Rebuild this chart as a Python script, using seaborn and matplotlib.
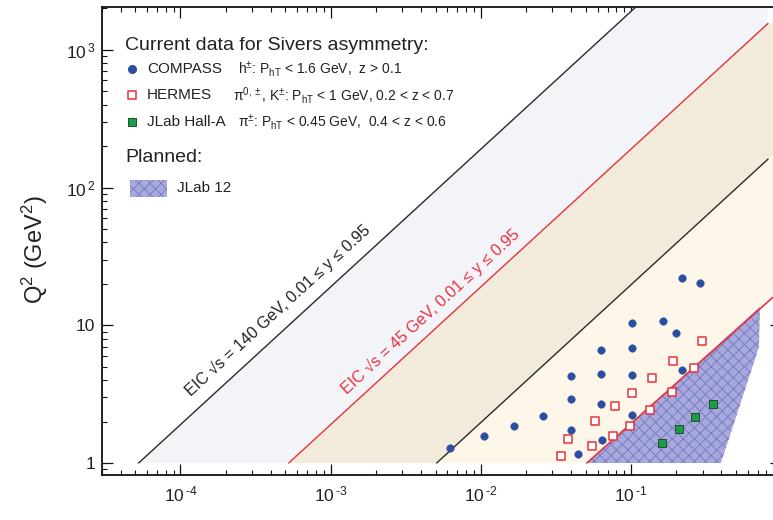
import numpy as np
import pandas as pd
import matplotlib
matplotlib.use("Agg")
import matplotlib.pyplot as plt
import seaborn as sns
from matplotlib.patches import Polygon, Rectangle
from matplotlib.ticker import FixedLocator, FixedFormatter, LogLocator, NullFormatter

# ---------------- data ----------------
compass_x = [0.0062, 0.0105, 0.0166, 0.0258, 0.0402, 0.0402, 0.0402, 0.0445,
             0.0628, 0.0628, 0.0628, 0.0641, 0.102, 0.102, 0.102, 0.102,
             0.163, 0.200, 0.218, 0.218, 0.290]
compass_q2 = [1.28, 1.57, 1.86, 2.20, 4.28, 2.90, 1.74, 1.16,
              6.62, 4.43, 2.68, 1.47, 10.4, 6.81, 4.36, 2.22,
              10.7, 8.75, 4.74, 21.9, 20.4]

hermes_x = [0.0341, 0.0384, 0.0555, 0.0581, 0.0762, 0.0782, 0.0985,
            0.102, 0.134, 0.139, 0.187, 0.191, 0.263, 0.296]
hermes_q2 = [1.13, 1.50, 1.33, 2.03, 1.57, 2.59, 1.87,
             3.21, 2.41, 4.14, 3.29, 5.51, 4.87, 7.73]

jlab_x = [0.160, 0.208, 0.267, 0.354]
jlab_q2 = [1.39, 1.77, 2.17, 2.68]

# Kinematic limits drawn as Q2 = slope * x
eic140_slope = 19000.0
eic45_slope = 1900.0
fixed_target_slope = 196.5
line_x_end = 0.82
q2_min = 1.0

# JLab 12 GeV projected coverage
jlab12_x = [0.0509, 0.724, 0.713, 0.398]
jlab12_q2 = [1.0, 13.6, 6.96, 1.0]
jlab12_edge_x = [0.0509, 0.885]
jlab12_edge_q2 = [1.0, 16.0]

x_ticks = [1e-4, 1e-3, 1e-2, 1e-1]
x_ticklabels = [r"10$^{\,\text{-}4}$", r"10$^{\,\text{-}3}$",
                r"10$^{\,\text{-}2}$", r"10$^{\,\text{-}1}$"]
y_ticks = [1, 10, 100, 1000]
y_ticklabels = ["1", "10", r"10$^{\,2}$", r"10$^{\,3}$"]

legend_names = ["COMPASS", "HERMES", "JLab Hall-A"]
legend_desc = ["h$^{\\pm}$: P$_{\\rm hT}$ < 1.6 GeV,  z > 0.1",
               "\u03c0$^{0,\\pm}$, K$^{\\pm}$: P$_{\\rm hT}$ < 1 GeV, 0.2 < z < 0.7",
               "\u03c0$^{\\pm}$: P$_{\\rm hT}$ < 0.45 GeV,  0.4 < z < 0.6"]

xlim = (3.0e-5, 1.0)
ylim = (0.818, 2050.0)

# ---------------- style ----------------
sns.set_theme(style="ticks")
plt.rcParams["font.family"] = ["Liberation Sans", "DejaVu Sans"]
plt.rcParams["mathtext.fontset"] = "custom"
plt.rcParams["mathtext.rm"] = "Liberation Sans"
plt.rcParams["mathtext.it"] = "Liberation Sans:italic"
plt.rcParams["mathtext.bf"] = "Liberation Sans:bold"
plt.rcParams["hatch.linewidth"] = 0.6

TXT = "#222222"
BLUE = "#2c4ea0"
RED = "#e8323c"
GREEN = "#1f9a49"
GREEN_EDGE = "#1d4f2c"
HATCH_FACE = "#a7a9dc"
HATCH_LINE = "#7477c2"
BAND_A = "#f3f4f8"
BAND_B = "#f2ebdc"
BAND_C = "#fdf6e9"

W, H = 773, 520
fig = plt.figure(figsize=(W / 100, H / 100), dpi=100)
ax = fig.add_axes([102 / W, 45 / H, (781 - 102) / W, (513 - 45) / H])
ax.set_xscale("log")
ax.set_yscale("log")
ax.set_xlim(*xlim)
ax.set_ylim(*ylim)

# ---------------- shaded kinematic bands ----------------
x140_lo = q2_min / eic140_slope
x140_hi = ylim[1] / eic140_slope
x45_lo = q2_min / eic45_slope
x3_lo = q2_min / fixed_target_slope
q45_end = eic45_slope * line_x_end

band_a = Polygon([(x140_lo, q2_min), (x140_hi, ylim[1]), (line_x_end, ylim[1]),
                  (line_x_end, q45_end), (x45_lo, q2_min)],
                 closed=True, facecolor=BAND_A, edgecolor="none", zorder=1)
band_b = Polygon([(x45_lo, q2_min), (line_x_end, q45_end), (xlim[1], q45_end),
                  (xlim[1], fixed_target_slope * xlim[1]), (x3_lo, q2_min)],
                 closed=True, facecolor=BAND_B, edgecolor="none", zorder=1)
band_c = Polygon([(x3_lo, q2_min), (xlim[1], fixed_target_slope * xlim[1]),
                  (xlim[1], jlab12_edge_q2[1]), (jlab12_edge_x[1], jlab12_edge_q2[1]),
                  (jlab12_edge_x[0], jlab12_edge_q2[0])],
                 closed=True, facecolor=BAND_C, edgecolor="none", zorder=1)
for p in (band_a, band_b, band_c):
    ax.add_patch(p)

jlab12 = Polygon(list(zip(jlab12_x, jlab12_q2)), closed=True,
                 facecolor=HATCH_FACE, edgecolor=HATCH_LINE, linewidth=0,
                 hatch="xxx", zorder=2)
ax.add_patch(jlab12)

# ---------------- boundary lines ----------------
lines = pd.DataFrame({
    "x": [x140_lo, x140_hi, x45_lo, line_x_end, x3_lo, line_x_end],
    "q2": [q2_min, ylim[1], q2_min, q45_end, q2_min, fixed_target_slope * line_x_end],
    "name": ["140", "140", "45", "45", "ft", "ft"],
})
sns.lineplot(data=lines, x="x", y="q2", hue="name",
             palette={"140": "#2a2a2a", "45": RED, "ft": "#2a2a2a"},
             linewidth=1.0, legend=False, ax=ax, zorder=3, sort=False,
             estimator=None)
sns.lineplot(x=jlab12_edge_x, y=jlab12_edge_q2, color=RED, linewidth=1.2,
             ax=ax, zorder=3, estimator=None)

# ---------------- measurements ----------------
sns.scatterplot(x=compass_x, y=compass_q2, ax=ax, marker="o", s=30,
                color=BLUE, edgecolor=BLUE, linewidth=0.3, zorder=6)
sns.scatterplot(x=hermes_x, y=hermes_q2, ax=ax, marker="s", s=36,
                facecolor="white", edgecolor=RED, linewidth=1.1, zorder=6)
sns.scatterplot(x=jlab_x, y=jlab_q2, ax=ax, marker="s", s=32,
                color=GREEN, edgecolor=GREEN_EDGE, linewidth=0.7, zorder=6)

# ---------------- line annotations ----------------
def slope_angle(slope):
    p0 = ax.transData.transform((1e-4, slope * 1e-4))
    p1 = ax.transData.transform((1e-3, slope * 1e-3))
    return np.degrees(np.arctan2(p1[1] - p0[1], p1[0] - p0[0]))

ax.text(4.43e-4, 12.9, "EIC \u221as = 140 GeV, 0.01 \u2264 y \u2264 0.95",
        rotation=slope_angle(eic140_slope), rotation_mode="anchor",
        ha="center", va="center", fontsize=11.6, color=TXT, zorder=7)
ax.text(4.64e-3, 12.5, "EIC \u221as = 45 GeV, 0.01 \u2264 y \u2264 0.95",
        rotation=slope_angle(eic45_slope), rotation_mode="anchor",
        ha="center", va="center", fontsize=11.6, color=RED, zorder=7)

# ---------------- axes ----------------
ax.xaxis.set_major_locator(FixedLocator(x_ticks))
ax.xaxis.set_major_formatter(FixedFormatter(x_ticklabels))
ax.yaxis.set_major_locator(FixedLocator(y_ticks))
ax.yaxis.set_major_formatter(FixedFormatter(y_ticklabels))
for axis in (ax.xaxis, ax.yaxis):
    axis.set_minor_locator(LogLocator(base=10, subs=np.arange(2, 10), numticks=20))
    axis.set_minor_formatter(NullFormatter())
ax.tick_params(which="both", direction="in", top=True, right=True,
               colors="#111111", labelcolor=TXT, labelsize=12.5)
ax.tick_params(which="major", length=8, width=0.9)
ax.tick_params(which="minor", length=3.5, width=0.8)
ax.tick_params(axis="x", which="major", pad=7)
ax.tick_params(axis="y", which="major", pad=5)
for s in ax.spines.values():
    s.set_linewidth(1.3)
    s.set_color("#111111")
ax.set_xlabel("")
ax.set_ylabel("")
fig.text(35 / W, 1 - 250 / H, r"Q$^2$ (GeV$^2$)", rotation=90,
         ha="center", va="center", fontsize=17, color=TXT)

# ---------------- legend block ----------------
lax = fig.add_axes([0, 0, 1, 1], zorder=10)
lax.set_xlim(0, W)
lax.set_ylim(H, 0)
lax.axis("off")
lax.patch.set_alpha(0)

lax.text(125, 45, "Current data for Sivers asymmetry:", fontsize=14,
         color=TXT, va="center")
rows_y = [69, 95, 122]
lax.scatter([132], [rows_y[0]], marker="o", s=30, color=BLUE)
lax.scatter([132], [rows_y[1]], marker="s", s=36, facecolor="white",
            edgecolor=RED, linewidth=1.1)
lax.scatter([132], [rows_y[2]], marker="s", s=32, color=GREEN,
            edgecolor=GREEN_EDGE, linewidth=0.7)
desc_x = [238, 233, 238]
for yy, name, desc, dx in zip(rows_y, legend_names, legend_desc, desc_x):
    lax.text(147, yy, name, fontsize=11, color=TXT, va="center")
    lax.text(dx, yy, desc, fontsize=10, color=TXT, va="center")

lax.text(125, 158, "Planned:", fontsize=14, color=TXT, va="center")
lax.add_patch(Rectangle((130, 180), 37, 17, facecolor=HATCH_FACE,
                        edgecolor=HATCH_LINE, linewidth=0, hatch="xxx"))
lax.text(177, 188, "JLab 12", fontsize=11, color=TXT, va="center")

fig.savefig("out.png", dpi=100)
